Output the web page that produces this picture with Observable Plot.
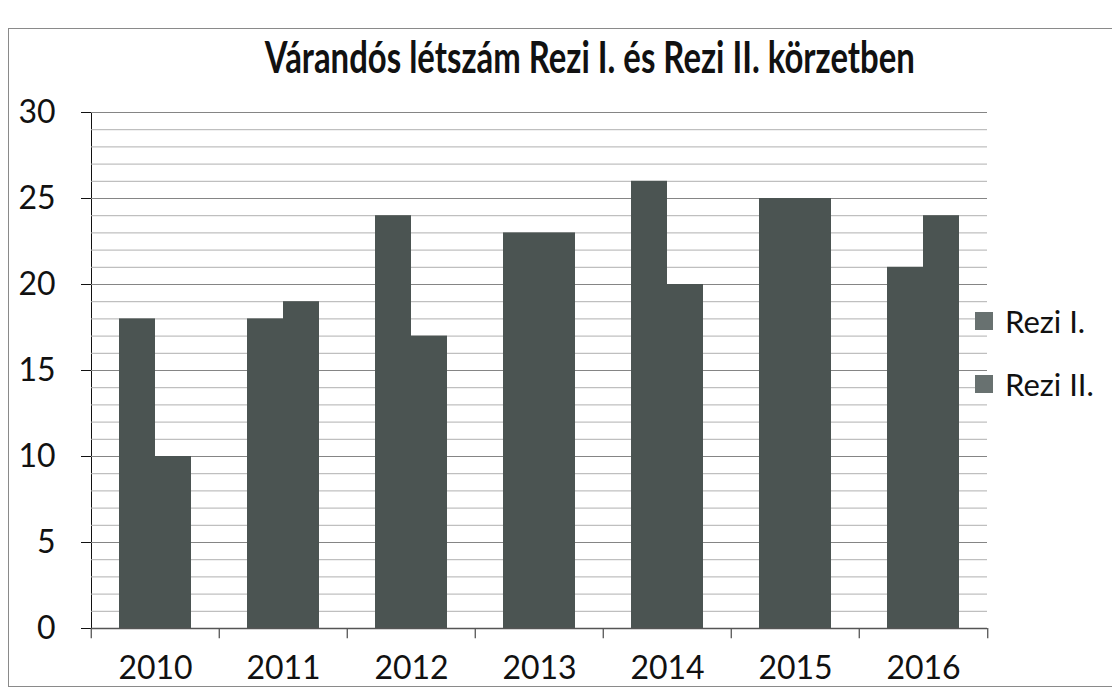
<!DOCTYPE html>
<html>
<head>
<meta charset="utf-8">
<script src="https://cdn.jsdelivr.net/npm/d3@7"></script>
<script src="https://cdn.jsdelivr.net/npm/@observablehq/plot@0.6"></script>
<style>
  html, body { margin: 0; padding: 0; background: #fff; }
  #wrap { position: relative; width: 1112px; height: 695px; overflow: hidden; font-family: Lato, "Open Sans", sans-serif; }
  #border { position: absolute; left: 8px; top: 28px; width: 1110px; height: 659px; border: 1px solid #8a8a8a; box-sizing: border-box; }
  #title { position: absolute; left: 0; top: 30px; width: 1180px; text-align: center; }
  #title span { display: inline-block; font-weight: 700; font-size: 44px; color: #111; transform-origin: center; white-space: nowrap; }
  #chart { position: absolute; left: 0; top: 0; }
  .legend { position: absolute; left: 975px; font-size: 31px; color: #111; display: flex; align-items: center; }
  .legend i { display: inline-block; width: 18px; height: 18px; background: #687170; margin-right: 12px; }
</style>
</head>
<body>
<div id="wrap">
  <div id="border"></div>
  <div id="title"><span id="ttl">Várandós létszám Rezi I. és Rezi II. körzetben</span></div>
  <div id="chart"></div>
  <div class="legend" style="top:302px"><i></i>Rezi I.</div>
  <div class="legend" style="top:365px"><i></i>Rezi II.</div>
</div>
<script>
const years = ["2010", "2011", "2012", "2013", "2014", "2015", "2016"];
const series = ["Rezi I", "Rezi II"];
const reziI = [18, 18, 24, 23, 26, 25, 21];
const reziII = [10, 19, 17, 23, 20, 25, 24];
const yTicks = [0, 5, 10, 15, 20, 25, 30];
const minorTicks = d3.range(0, 31);

const data = years.flatMap((y, i) => [
  {year: y, series: "Rezi I", value: reziI[i]},
  {year: y, series: "Rezi II", value: reziII[i]}
]);

// layout constants (styles)
const W = 1112, ML = 88, MR = 122, OUTER = 0.77;
const facetW = (W - ML - MR) / years.length;
const step = facetW / (2 + 2 * OUTER);
const edgeOff = OUTER * step + step / 2;

const leftEdges = years.map(y => ({year: y, series: "Rezi I"}));
const rightEdge = [{year: years[years.length - 1], series: "Rezi II"}];

const chart = Plot.plot({
  width: W,
  height: 695,
  marginLeft: ML,
  marginRight: MR,
  marginTop: 112,
  marginBottom: 67,
  style: {fontFamily: "Lato, 'Open Sans', sans-serif", fontSize: "32px", color: "#111", background: "transparent", overflow: "visible"},
  fx: {domain: years, padding: 0, axis: "bottom", tickSize: 0, tickPadding: 28, label: null},
  x: {domain: series, paddingInner: 0, paddingOuter: OUTER, axis: null},
  y: {domain: [0, 30], ticks: yTicks, tickSize: 10, tickPadding: 26, label: null, line: true, tickFormat: d => String(d)},
  marks: [
    Plot.ruleY(minorTicks.filter(d => d % 5 !== 0), {stroke: "#b0b0b0", strokeWidth: 1}),
    Plot.ruleY(yTicks, {stroke: "#858585", strokeWidth: 1.2}),
    Plot.barY(data, {fx: "year", x: "series", y: "value", fill: "#4b5452"}),
    Plot.ruleY([0], {stroke: "#555", strokeWidth: 1.3}),
    Plot.ruleX(leftEdges, {fx: "year", x: "series", y1: 0, y2: -0.6, dx: -edgeOff, stroke: "#555", strokeWidth: 1.3}),
    Plot.ruleX(rightEdge, {fx: "year", x: "series", y1: 0, y2: -0.6, dx: edgeOff, stroke: "#555", strokeWidth: 1.3})
  ]
});
document.getElementById("chart").appendChild(chart);

const t = document.getElementById("ttl");
const w = t.getBoundingClientRect().width;
t.style.transform = `scaleX(${650 / w})`;
</script>
</body>
</html>
